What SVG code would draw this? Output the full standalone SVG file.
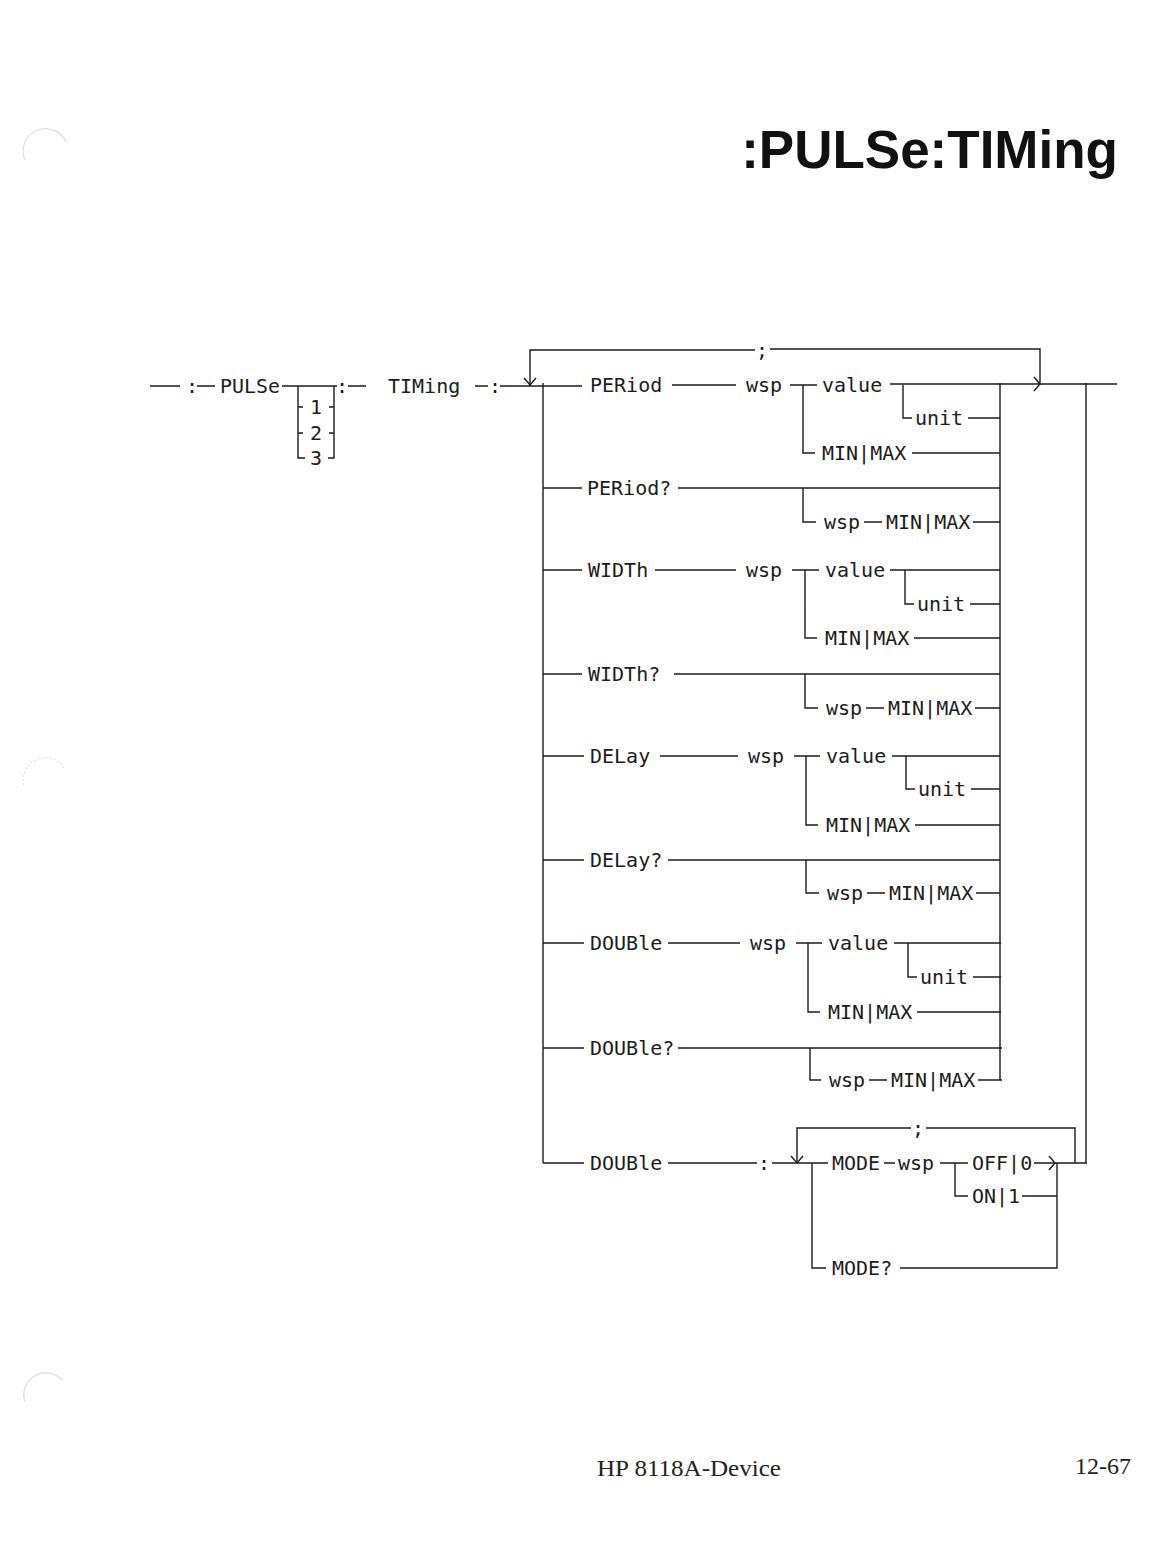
<svg xmlns="http://www.w3.org/2000/svg" width="1176" height="1544" viewBox="0 0 1176 1544">
<style>
.l{stroke:#1c1c1c;stroke-width:1.4;fill:none}
.t{font-family:"DejaVu Sans Mono","Liberation Mono",monospace;font-size:20px;fill:#1c1c1c}
.hole{stroke:#dcdcdc;stroke-width:1.2;fill:none}
.ft{font-family:"Liberation Serif","Times New Roman",serif;font-size:24px;fill:#222}
</style>
<defs>
<path id="dn" d="M-6,-7 L0,0 L6,-7"/>
<path id="rt" d="M-6,-7 L0,0 L-6,7"/>
</defs>
<rect width="1176" height="1544" fill="#ffffff"/>
<g id="holes">
<path class="hole" d="M25,160 A22,22 0 0 1 66,142"/>
<path class="hole" d="M24,785 A22,22 0 0 1 64,768" stroke-dasharray="2 2"/>
<path class="hole" d="M25,1402 A22,22 0 0 1 62,1380"/>
</g>
<g id="title">
<text x="1118" y="168" text-anchor="end" font-family="Liberation Sans, Arial, sans-serif" font-weight="bold" font-size="53" fill="#111">:PULSe:TIMing</text>
</g>
<g id="prefix">
<path class="l" d="M150,386 H180 M197,386 H215 M282,386 H337 M298,386 V458 H305 M334,386 V458 H328 M298,407 H303 M298,433 H303 M334,407 H329 M334,433 H329 M348,386 H366 M475,386 H488"/>
<text class="t" x="192" y="393" text-anchor="middle">:</text>
<text class="t" x="220" y="393" textLength="60" lengthAdjust="spacingAndGlyphs">PULSe</text>
<text class="t" x="316" y="414" text-anchor="middle" font-size="18">1</text>
<text class="t" x="316" y="440" text-anchor="middle" font-size="18">2</text>
<text class="t" x="316" y="465" text-anchor="middle" font-size="18">3</text>
<text class="t" x="342" y="393" text-anchor="middle">:</text>
<text class="t" x="388" y="393">TIMing</text>
<text class="t" x="495" y="393" text-anchor="middle">:</text>
</g>
<g id="loop-top">
<text class="t" x="762" y="357" text-anchor="middle">;</text>
</g>
<g id="period">
<text class="t" x="590" y="392">PERiod</text>
<text class="t" x="746" y="392">wsp</text>
<text class="t" x="822" y="392">value</text>
<text class="t" x="915" y="425">unit</text>
<text class="t" x="822" y="460">MIN|MAX</text>
<path class="l" d="M672,385 H736 M790,385 H817 M803,385 V453 H815 M903,385 V418 H912 M968,418 H1000 M912,453 H1000"/>
</g>
<g id="period-q">
<text class="t" x="587" y="495">PERiod?</text>
<text class="t" x="824" y="529">wsp</text>
<text class="t" x="886" y="529">MIN|MAX</text>
<path class="l" d="M543,488 H582 M678,488 H1000 M803,488 V522 H816 M864,522 H882 M973,522 H1000"/>
</g>
<g id="width">
<text class="t" x="588" y="577">WIDTh</text>
<text class="t" x="746" y="577">wsp</text>
<text class="t" x="825" y="577">value</text>
<text class="t" x="917" y="611">unit</text>
<text class="t" x="825" y="645">MIN|MAX</text>
<path class="l" d="M543,570 H582 M655,570 H736 M792,570 H819 M805,570 V638 H817 M890,570 H1000 M905,570 V604 H914 M970,604 H1000 M914,638 H1000"/>
</g>
<g id="width-q">
<text class="t" x="588" y="681">WIDTh?</text>
<text class="t" x="826" y="715">wsp</text>
<text class="t" x="888" y="715">MIN|MAX</text>
<path class="l" d="M543,674 H582 M674,674 H1000 M805,674 V708 H818 M866,708 H884 M975,708 H1000"/>
</g>
<g id="delay">
<text class="t" x="590" y="763">DELay</text>
<text class="t" x="748" y="763">wsp</text>
<text class="t" x="826" y="763">value</text>
<text class="t" x="918" y="796">unit</text>
<text class="t" x="826" y="832">MIN|MAX</text>
<path class="l" d="M543,756 H584 M660,756 H738 M794,756 H820 M806,756 V825 H818 M892,756 H1000 M906,756 V789 H915 M971,789 H1000 M915,825 H1000"/>
</g>
<g id="delay-q">
<text class="t" x="590" y="867">DELay?</text>
<text class="t" x="827" y="900">wsp</text>
<text class="t" x="889" y="900">MIN|MAX</text>
<path class="l" d="M543,860 H584 M668,860 H1000 M806,860 V893 H819 M867,893 H885 M976,893 H1000"/>
</g>
<g id="double">
<text class="t" x="590" y="950">DOUBle</text>
<text class="t" x="750" y="950">wsp</text>
<text class="t" x="828" y="950">value</text>
<text class="t" x="920" y="984">unit</text>
<text class="t" x="828" y="1019">MIN|MAX</text>
<path class="l" d="M543,943 H584 M668,943 H740 M796,943 H822 M808,943 V1012 H820 M894,943 H1001 M908,943 V977 H917 M973,977 H1001 M917,1012 H1001"/>
</g>
<g id="double-q">
<text class="t" x="590" y="1055">DOUBle?</text>
<text class="t" x="829" y="1087">wsp</text>
<text class="t" x="891" y="1087">MIN|MAX</text>
<path class="l" d="M543,1048 H584 M678,1048 H1002 M810,1048 V1080 H821 M869,1080 H887 M978,1080 H1002"/>
</g>
<g id="double-mode">
<text class="t" x="590" y="1170">DOUBle</text>
<text class="t" x="764" y="1170" text-anchor="middle">:</text>
<text class="t" x="918" y="1135" text-anchor="middle">;</text>
<text class="t" x="832" y="1170">MODE</text>
<text class="t" x="898" y="1170">wsp</text>
<text class="t" x="972" y="1170">OFF|0</text>
<text class="t" x="972" y="1203">ON|1</text>
<text class="t" x="832" y="1275">MODE?</text>
<path class="l" d="M543,1163 H584 M668,1163 H757 M772,1163 H828 M797,1163 V1128 H911 M926,1128 H1075 V1163 M812,1163 V1268 H826 M884,1163 H895 M940,1163 H968 M955,1163 V1196 H968 M1034,1163 H1087 M1022,1196 H1057 M900,1268 H1057 V1163"/>
<use href="#dn" class="l" x="797" y="1163"/>
<use href="#rt" class="l" x="1055" y="1163"/>
</g>
<g id="connectors">
<path class="l" d="M500,386 H582 M530,386 V350 H755 M770,349 H1040 V383 M543,383 V1163 M890,384 H1117 M1000,383 V1080 M1086,383 V1163"/>
<use href="#dn" class="l" x="530" y="385"/>
<use href="#rt" class="l" x="1040" y="384"/>
</g>
<g id="footer">
<text class="ft" x="597" y="1476" textLength="184" lengthAdjust="spacingAndGlyphs">HP 8118A-Device</text>
<text class="ft" x="1131" y="1474" text-anchor="end">12-67</text>
</g>
</svg>
